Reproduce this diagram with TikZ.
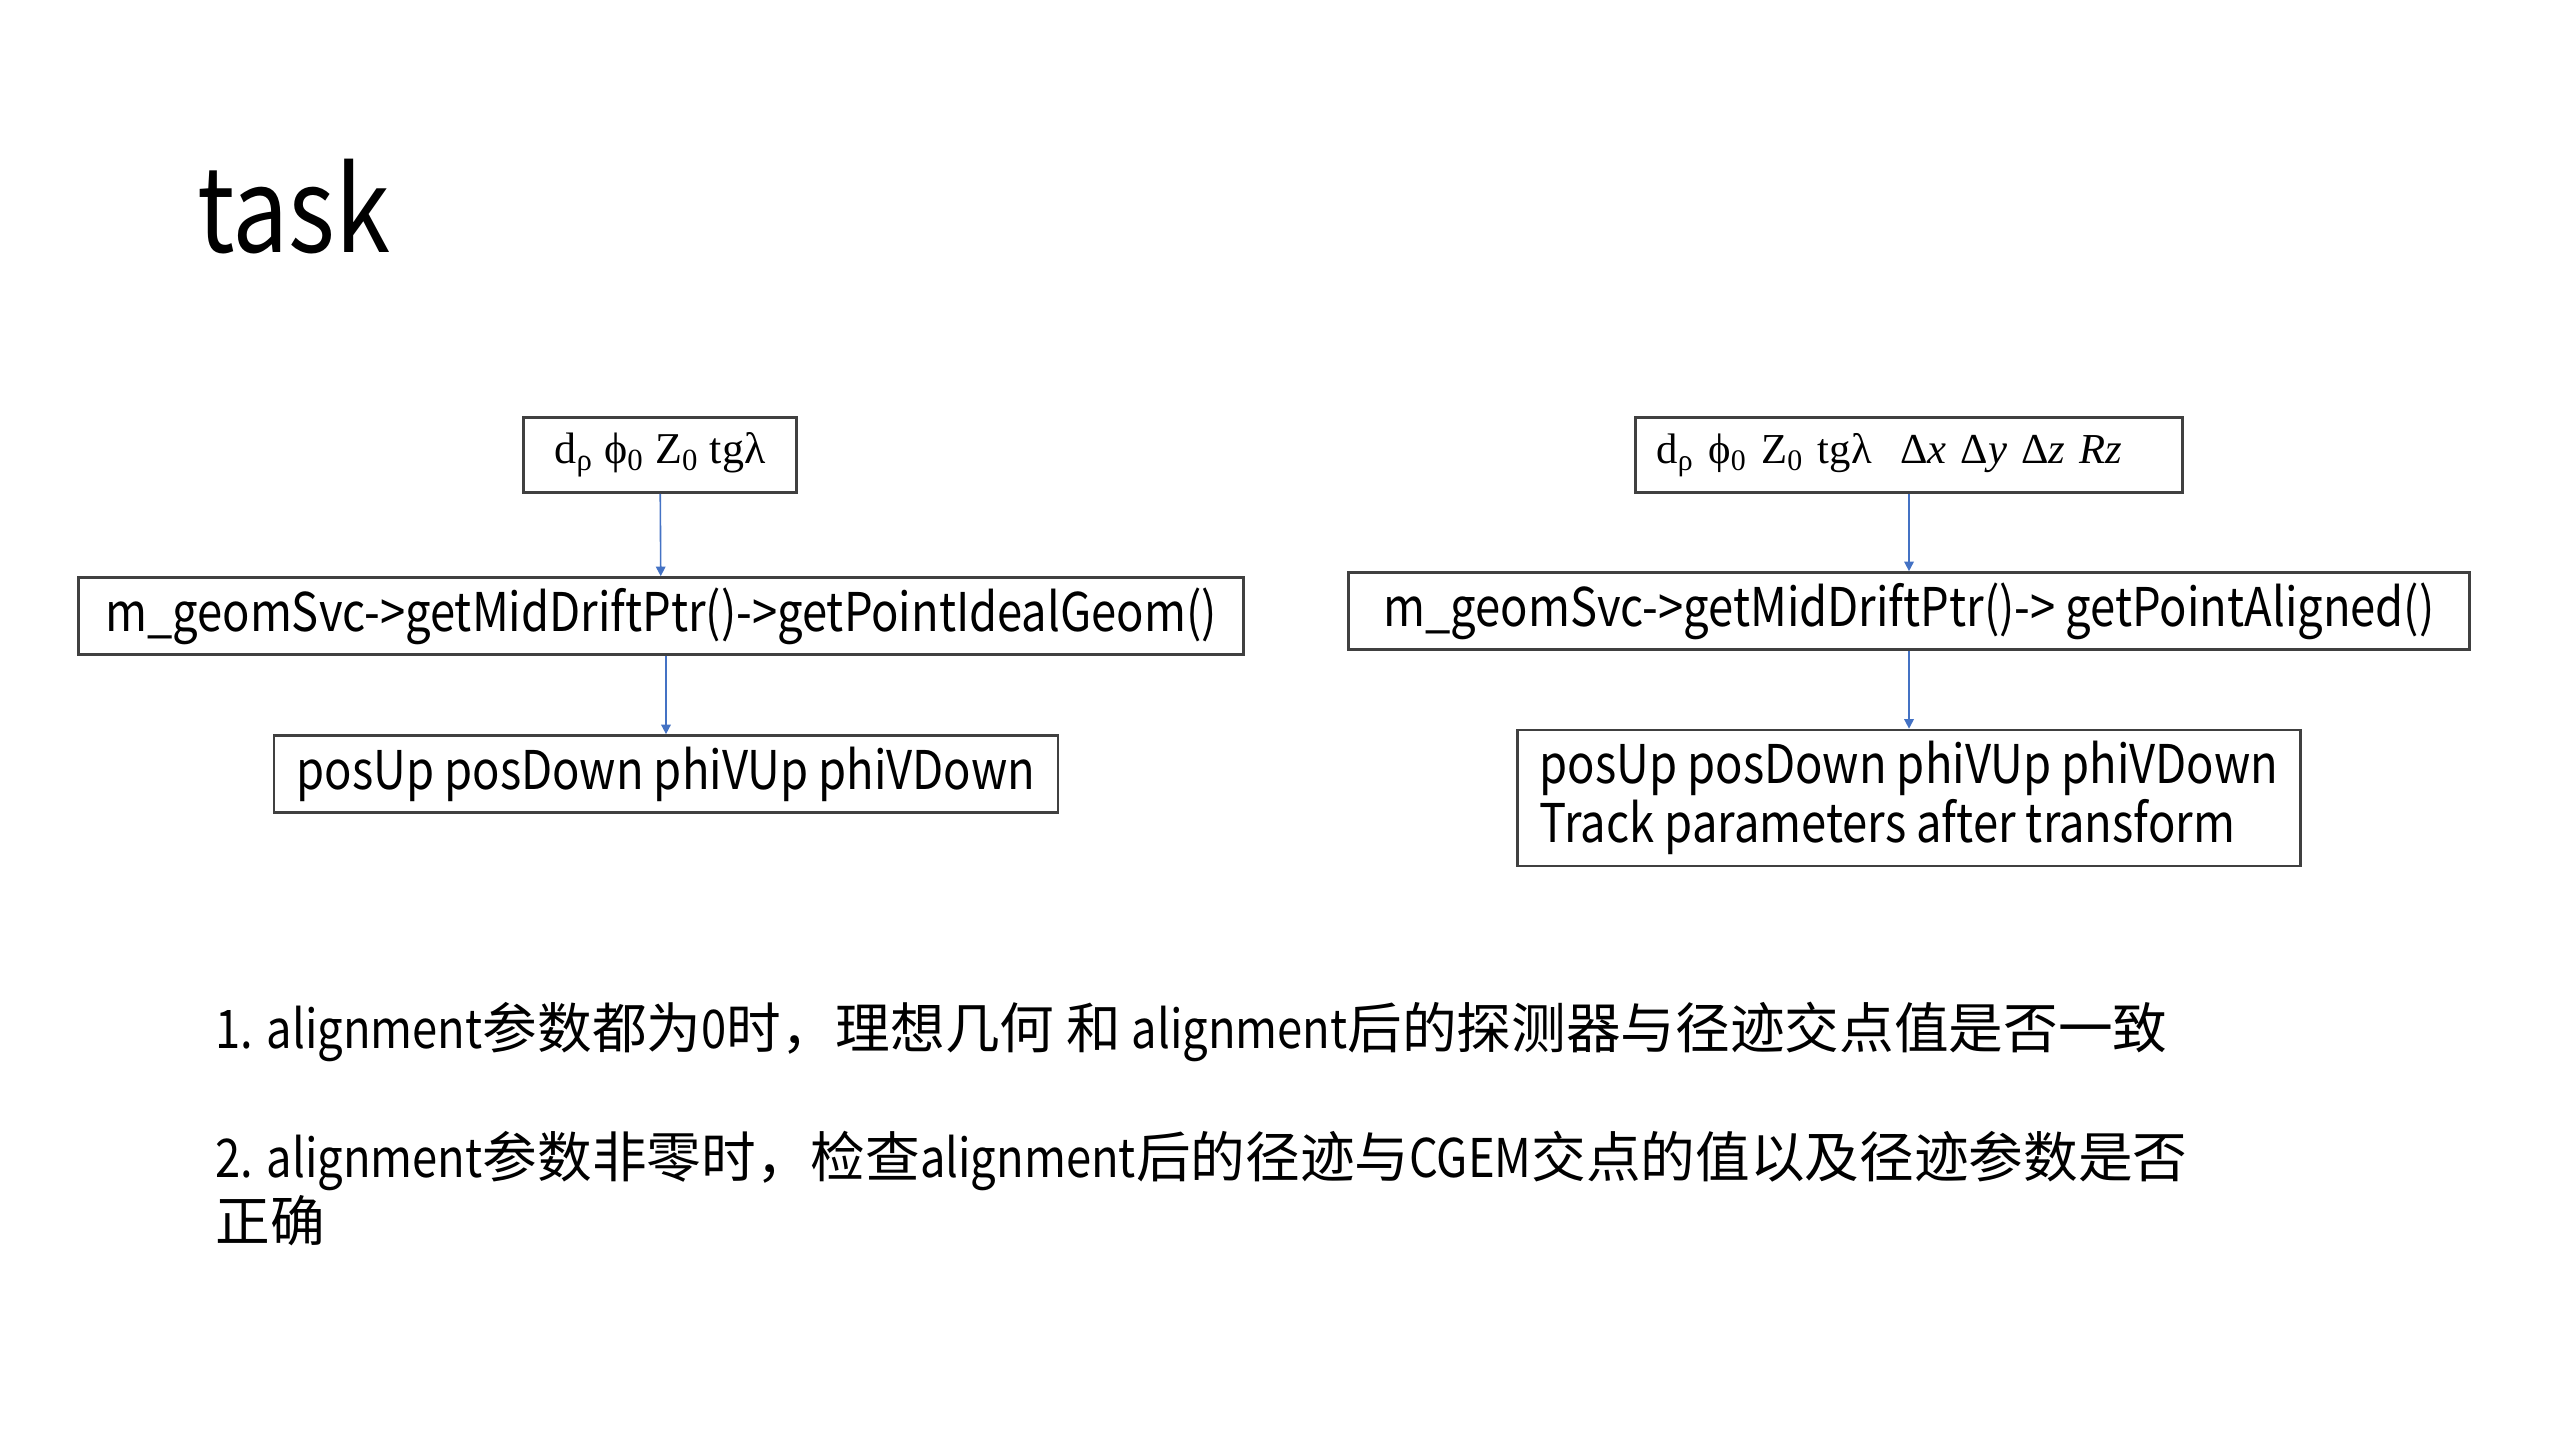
\documentclass[tikz,border=0pt]{standalone}
\usepackage{fontspec}
\setmainfont[FakeStretch=0.85]{Noto Sans CJK SC}
\newfontfamily\cjk[Scale=1.025]{Noto Sans CJK SC}
\newfontfamily\cambria{Liberation Serif}
\setlength\parindent{0pt}
\usetikzlibrary{arrows.meta}
\definecolor{arrowblue}{RGB}{68,114,196}
\definecolor{boxgray}{RGB}{64,64,64}
\tikzset{
  box/.style={draw=boxgray, line width=1bp, inner sep=0pt, font=\fontsize{20bp}{22bp}\selectfont},
  parbox/.style={box, font=\cambria\fontsize{16.5bp}{19bp}\selectfont},
  flow/.style={draw=arrowblue, line width=0.6bp, -{Triangle[length=3.6bp,width=3.6bp]}},
  note/.style={anchor=base west, inner sep=0pt, align=left, font=\fontsize{20bp}{24bp}\selectfont}
}
\begin{document}
\begin{tikzpicture}[x=0.375bp, y=-0.375bp]
\fill[white] (0,0) rectangle (2560,1440);
\useasboundingbox (0,0) rectangle (2560,1440);
% title
\node[anchor=base west, inner sep=0pt, font=\fontsize{44bp}{52bp}\selectfont] (title) at (197,252) {task};
% left chain: ideal geometry
\node[parbox, minimum width=102.4bp, minimum height=28.1bp] (parL) at (660,455)
  {d\textsubscript{ρ} ϕ\textsubscript{0} Z\textsubscript{0} tgλ};
\node[box, minimum width=436.9bp, minimum height=28.9bp] (svcL) at (661,616)
  {m\_geomSvc->getMidDriftPtr()->getPointIdealGeom()};
\node[box, minimum width=294bp, minimum height=28.9bp] (posL) at (666,774)
  {posUp posDown phiVUp phiVDown};
% right chain: aligned geometry
\node[parbox, font=\cambria\fontsize{16bp}{19bp}\selectfont, text width=189.3bp, align=left, inner xsep=7.9bp, minimum height=28.1bp] (parR) at (1909,455)
  {\mbox{d\textsubscript{ρ} ϕ\textsubscript{0} Z\textsubscript{0} tgλ\ \ Δ\textit{x} Δ\textit{y} Δ\textit{z} \textit{Rz}}};
\node[box, minimum width=420.4bp, minimum height=28.9bp] (svcR) at (1909,611)
  {m\_geomSvc->getMidDriftPtr()-> getPointAligned()};
\node[box, align=left, minimum width=293.6bp, minimum height=51bp] (posR) at (1909,798)
  {posUp posDown phiVUp phiVDown\\Track parameters after transform};
% connectors
\draw[flow] (parL) -- (svcL);
\draw[flow] (svcL.south -| posL.north) -- (posL);
\draw[flow] (parR) -- (svcR);
\draw[flow] (svcR) -- (posR);
% notes
\node[note] (task1) at (215,1048)
  {1. alignment{\cjk 参数都为}0{\cjk 时，理想几何 和} alignment{\cjk 后的探测器与径迹交点值是否一致}};
\node[note] (task2) at (215,1241)
  {2. alignment{\cjk 参数非零时，检查}alignment{\cjk 后的径迹与}CGEM{\cjk 交点的值以及径迹参数是否}\\{\cjk 正确}};
\end{tikzpicture}
\end{document}
